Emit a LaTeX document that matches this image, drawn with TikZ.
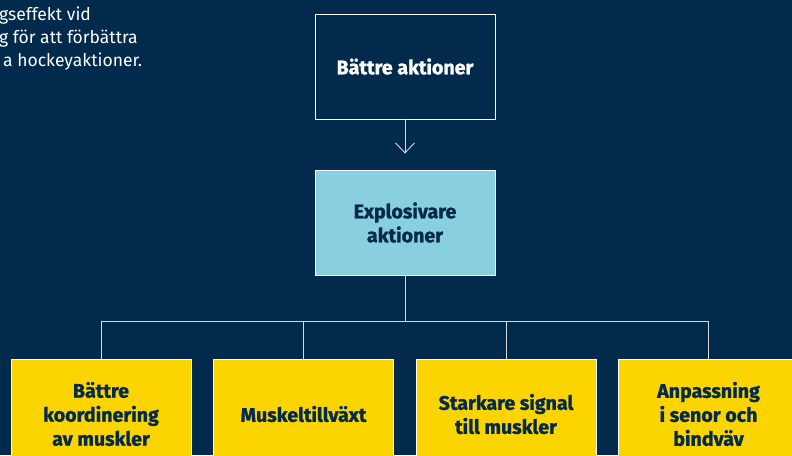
\documentclass[tikz,border=0pt]{standalone}
\usepackage{fontspec}
\setmainfont{Fira Sans}[BoldFeatures={FakeBold=1.3}]
\usetikzlibrary{arrows.meta}
\definecolor{navy}{HTML}{012A4C}
\definecolor{skyblue}{HTML}{88CFDF}
\definecolor{sunyellow}{HTML}{FCD500}
\definecolor{wire}{HTML}{D4DAE0}
\tikzset{
  box/.style={draw=white, line width=0.9pt, minimum width=180pt, minimum height=105pt,
    align=center, inner sep=0pt, font=\fontsize{19.6}{24}\selectfont\bfseries},
  topbox/.style={box, fill=navy, text=white},
  midbox/.style={box, fill=skyblue, text=navy},
  leafbox/.style={box, fill=sunyellow, text=navy, minimum height=110pt},
  wireline/.style={draw=wire, line width=0.9pt},
  note/.style={anchor=west, text=white, inner sep=0pt, font=\fontsize{17.5}{23}\selectfont}
}
\begin{document}
\begin{tikzpicture}[x=1pt, y=-1pt]
  % backdrop and frame
  \fill[navy] (0,0) rectangle (792,455);
  \useasboundingbox (0,0) rectangle (792,455);
  \clip (0,0) rectangle (792,455);

  % intro text, partly outside the frame
  \node[note] (n1) at (-1,16) {gseffekt vid};
  \node[note] (n2) at (-1,39) {g för att förbättra};
  \node[note] (n3) at (3,62) {a hockeyaktioner.};

  % boxes
  \node[topbox] (top) at (405,66.5) {Bättre aktioner};
  \node[midbox] (mid) at (405,222.5) {Explosivare\\aktioner};
  \node[leafbox] (b1) at (101,414) {Bättre\\koordinering\\av muskler};
  \node[leafbox] (b2) at (303.5,414) {Muskeltillväxt};
  \node[leafbox] (b3) at (506,414) {Starkare signal\\till muskler};
  \node[leafbox] (b4) at (708.5,414) {Anpassning\\i senor och\\bindväv};

  % connectors
  \draw[wireline, -{Straight Barb[length=10pt,width=19pt]}, shorten >=16pt] (top.south) -- (mid.north);
  \coordinate (bus) at (405,321);
  \draw[wireline] (mid.south) -- (bus);
  \draw[wireline] (b1.north) -- (b1.north |- bus) -- (b4.north |- bus) -- (b4.north);
  \draw[wireline] (b2.north) -- (b2.north |- bus);
  \draw[wireline] (b3.north) -- (b3.north |- bus);
\end{tikzpicture}
\end{document}
